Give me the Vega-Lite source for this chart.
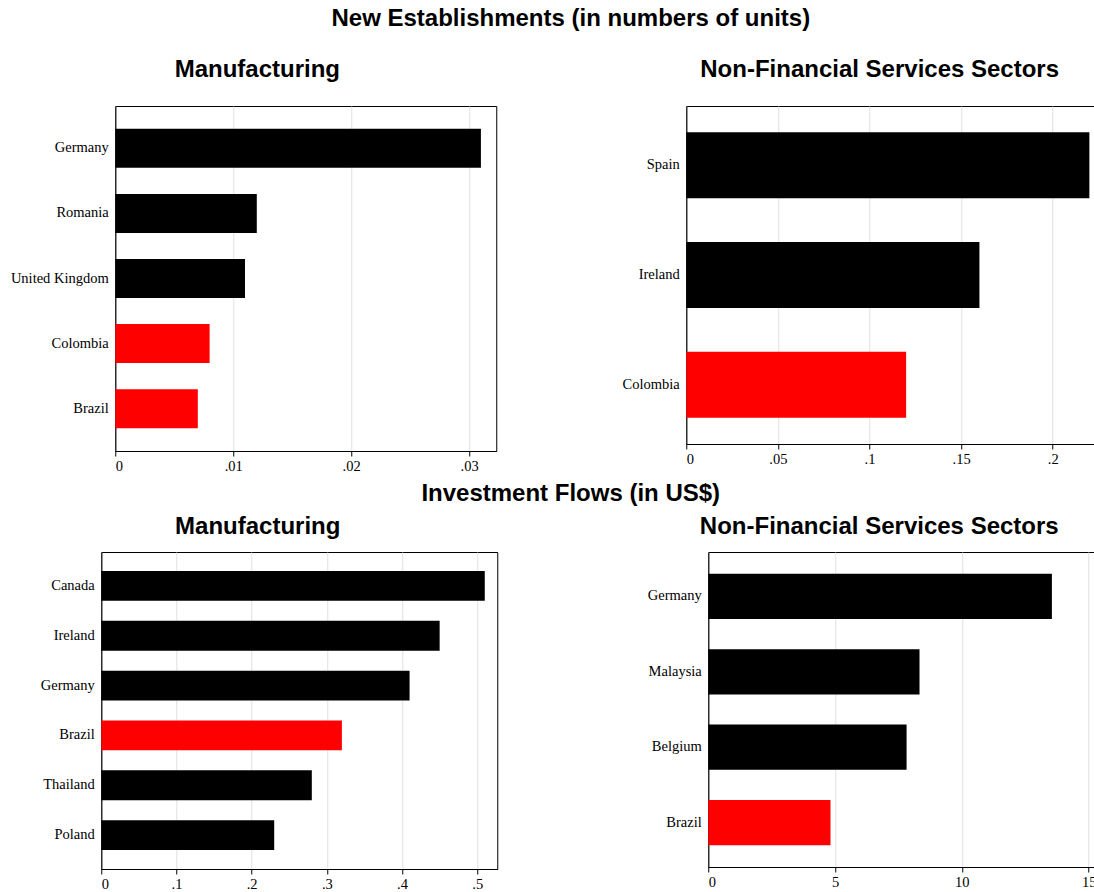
{
  "$schema": "https://vega.github.io/schema/vega-lite/v6.json",
  "background": "white",
  "padding": {"left": 9, "top": 6, "right": 0, "bottom": 0},
  "config": {
    "view": {"stroke": "#000", "strokeWidth": 1},
    "title": {"font": "Liberation Sans", "fontSize": 24, "fontWeight": "bold", "color": "#000", "anchor": "middle", "frame": "bounds"},
    "axis": {"labelFont": "Liberation Serif", "labelFontSize": 14.5, "labelColor": "#000", "domainColor": "#000", "gridColor": "#e0e0e0"},
    "axisY": {"ticks": false, "grid": false, "labelPadding": 7},
    "axisX": {"tickColor": "#000", "tickSize": 5, "labelPadding": 3, "grid": true}
  },
  "data": {
    "values": [
      {"panel": "ne_man", "country": "Germany", "value": 0.031, "highlight": "no"},
      {"panel": "ne_man", "country": "Romania", "value": 0.012, "highlight": "no"},
      {"panel": "ne_man", "country": "United Kingdom", "value": 0.011, "highlight": "no"},
      {"panel": "ne_man", "country": "Colombia", "value": 0.008, "highlight": "yes"},
      {"panel": "ne_man", "country": "Brazil", "value": 0.007, "highlight": "yes"},
      {"panel": "ne_srv", "country": "Spain", "value": 0.22, "highlight": "no"},
      {"panel": "ne_srv", "country": "Ireland", "value": 0.16, "highlight": "no"},
      {"panel": "ne_srv", "country": "Colombia", "value": 0.12, "highlight": "yes"},
      {"panel": "if_man", "country": "Canada", "value": 0.51, "highlight": "no"},
      {"panel": "if_man", "country": "Ireland", "value": 0.45, "highlight": "no"},
      {"panel": "if_man", "country": "Germany", "value": 0.41, "highlight": "no"},
      {"panel": "if_man", "country": "Brazil", "value": 0.32, "highlight": "yes"},
      {"panel": "if_man", "country": "Thailand", "value": 0.28, "highlight": "no"},
      {"panel": "if_man", "country": "Poland", "value": 0.23, "highlight": "no"},
      {"panel": "if_srv", "country": "Germany", "value": 13.55, "highlight": "no"},
      {"panel": "if_srv", "country": "Malaysia", "value": 8.33, "highlight": "no"},
      {"panel": "if_srv", "country": "Belgium", "value": 7.82, "highlight": "no"},
      {"panel": "if_srv", "country": "Brazil", "value": 4.82, "highlight": "yes"}
    ]
  },
  "columns": 1,
  "center": true,
  "spacing": 8,
  "concat": [
    {
      "title": {"text": "New Establishments (in numbers of units)", "dx": 17, "offset": 27},
      "spacing": 124,
      "hconcat": [
        {
          "title": {"text": "Manufacturing", "dx": 4, "offset": 24},
          "width": 381,
          "height": 345,
          "transform": [{"filter": "datum.panel == 'ne_man'"}],
          "mark": {"type": "bar"},
          "encoding": {
            "y": {"field": "country", "type": "nominal", "sort": "-x", "title": null,
                  "scale": {"paddingInner": 0.4, "paddingOuter": 0.35}},
            "x": {"field": "value", "type": "quantitative", "title": null,
                  "scale": {"domain": [0, 0.0323], "nice": false},
                  "axis": {"values": [0, 0.01, 0.02, 0.03], "labelExpr": "datum.value == 0 ? '0' : replace(format(datum.value, '~g'), '0.', '.')"}},
            "color": {"field": "highlight", "type": "nominal", "legend": null,
                      "scale": {"domain": ["no", "yes"], "range": ["#000000", "#ff0000"]}}
          }
        },
        {
          "title": {"text": "Non-Financial Services Sectors", "dx": 20, "offset": 24},
          "width": 411,
          "height": 338,
          "transform": [{"filter": "datum.panel == 'ne_srv'"}],
          "mark": {"type": "bar"},
          "encoding": {
            "y": {"field": "country", "type": "nominal", "sort": "-x", "title": null,
                  "scale": {"paddingInner": 0.4, "paddingOuter": 0.24}},
            "x": {"field": "value", "type": "quantitative", "title": null,
                  "scale": {"domain": [0, 0.2243], "nice": false},
                  "axis": {"values": [0, 0.05, 0.1, 0.15, 0.2], "labelExpr": "datum.value == 0 ? '0' : replace(format(datum.value, '~g'), '0.', '.')"}},
            "color": {"field": "highlight", "type": "nominal", "legend": null,
                      "scale": {"domain": ["no", "yes"], "range": ["#000000", "#ff0000"]}}
          }
        }
      ]
    },
    {
      "title": {"text": "Investment Flows (in US$)", "dx": 10, "offset": 9},
      "spacing": 148,
      "hconcat": [
        {
          "title": {"text": "Manufacturing", "dx": 4, "offset": 13},
          "width": 396,
          "height": 317,
          "transform": [{"filter": "datum.panel == 'if_man'"}],
          "mark": {"type": "bar"},
          "encoding": {
            "y": {"field": "country", "type": "nominal", "sort": "-x", "title": null,
                  "axis": {"minExtent": 91},
                  "scale": {"paddingInner": 0.4, "paddingOuter": 0.38}},
            "x": {"field": "value", "type": "quantitative", "title": null,
                  "scale": {"domain": [0, 0.5266], "nice": false},
                  "axis": {"values": [0, 0.1, 0.2, 0.3, 0.4, 0.5], "labelExpr": "datum.value == 0 ? '0' : replace(format(datum.value, '~g'), '0.', '.')"}},
            "color": {"field": "highlight", "type": "nominal", "legend": null,
                      "scale": {"domain": ["no", "yes"], "range": ["#000000", "#ff0000"]}}
          }
        },
        {
          "title": {"text": "Non-Financial Services Sectors", "dx": 0, "offset": 13},
          "width": 403,
          "height": 315,
          "transform": [{"filter": "datum.panel == 'if_srv'"}],
          "mark": {"type": "bar"},
          "encoding": {
            "y": {"field": "country", "type": "nominal", "sort": "-x", "title": null,
                  "scale": {"paddingInner": 0.4, "paddingOuter": 0.29}},
            "x": {"field": "value", "type": "quantitative", "title": null,
                  "scale": {"domain": [0, 15.89], "nice": false},
                  "axis": {"values": [0, 5, 10, 15]}},
            "color": {"field": "highlight", "type": "nominal", "legend": null,
                      "scale": {"domain": ["no", "yes"], "range": ["#000000", "#ff0000"]}}
          }
        }
      ]
    }
  ]
}
